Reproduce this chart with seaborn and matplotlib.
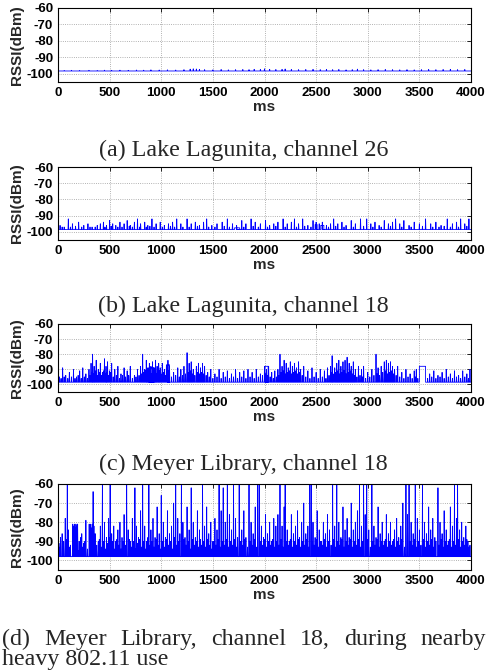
import matplotlib
matplotlib.use('Agg')
import matplotlib.pyplot as plt
import seaborn as sns
import pandas as pd

sns.set_style('white')
plt.rcParams['font.family'] = ['Liberation Sans', 'DejaVu Sans']
plt.rcParams['axes.unicode_minus'] = False

# x ticks / y ticks shared by all four panels
x_ticks = [0, 500, 1000, 1500, 2000, 2500, 3000, 3500, 4000]
y_ticks = [-100, -90, -80, -70, -60]

captions = ['(a) Lake Lagunita, channel 26',
            '(b) Lake Lagunita, channel 18',
            '(c) Meyer Library, channel 18']
caption_d = ['(d)', 'Meyer', 'Library,', 'channel', '18,', 'during', 'nearby']
caption_d2 = 'heavy 802.11 use'

# noise floor of each trace (dBm)
base_levels = [-98.3, -98.5, -98.5, -98.0]

# (a) lake, channel 26: only tiny wiggles on the floor
a_spikes = [(60, -98.0), (130, -97.9), (210, -98.0), (300, -97.9), (380, -98.0), (450, -97.8),
            (520, -97.9), (600, -97.8), (680, -97.9), (760, -97.7), (830, -97.8), (900, -97.6),
            (980, -97.7), (1060, -97.6), (1140, -97.7), (1220, -97.5), (1280, -97.2), (1310, -97.0),
            (1340, -97.1), (1370, -97.3), (1420, -97.5), (1500, -97.6), (1580, -97.4), (1650, -97.6),
            (1720, -97.5), (1790, -97.4), (1850, -97.5), (1900, -97.3), (1960, -97.4), (2000, -97.0),
            (2050, -97.3), (2110, -97.4), (2170, -97.3), (2200, -97.1), (2260, -97.4), (2330, -97.5),
            (2400, -97.4), (2470, -97.3), (2540, -97.5), (2600, -97.4), (2660, -97.5), (2720, -97.4),
            (2790, -97.6), (2850, -97.5), (2900, -97.2), (2960, -97.5), (3030, -97.6), (3100, -97.5),
            (3170, -97.4), (3240, -97.5), (3310, -97.6), (3380, -97.5), (3450, -97.6), (3520, -97.5),
            (3590, -97.4), (3660, -97.5), (3730, -97.4), (3800, -97.3), (3870, -97.5), (3940, -97.4)]
a_blocks = []

# (b) lake, channel 18
b_spikes = [(20, -96), (60, -97), (100, -92), (140, -95), (200, -94), (250, -96), (290, -95),
            (330, -97), (380, -96), (410, -95), (440, -94), (470, -96), (500, -93), (530, -95),
            (560, -96), (600, -94), (640, -95), (670, -93), (700, -96), (740, -94), (770, -92),
            (800, -95), (840, -94), (870, -96), (910, -92), (950, -95), (990, -94), (1030, -96),
            (1070, -95), (1110, -94), (1150, -92), (1190, -95), (1250, -92), (1290, -95), (1330, -94),
            (1370, -96), (1410, -94), (1440, -92), (1490, -96), (1540, -95), (1590, -94), (1640, -92),
            (1690, -95), (1730, -96), (1780, -93), (1820, -95), (1870, -92), (1910, -94), (1960, -95),
            (2010, -93), (2050, -96), (2090, -95), (2130, -94), (2180, -92), (2220, -95), (2260, -94),
            (2290, -92), (2330, -95), (2370, -92), (2420, -96), (2470, -93), (2500, -94), (2530, -95),
            (2560, -94), (2600, -96), (2640, -95), (2670, -92), (2710, -95), (2750, -94), (2790, -96),
            (2840, -93), (2880, -95), (2930, -92), (2990, -92), (3030, -95), (3070, -94), (3110, -96),
            (3160, -93), (3200, -95), (3240, -94), (3270, -92), (3310, -95), (3350, -93), (3400, -96),
            (3450, -94), (3500, -95), (3560, -92), (3610, -95), (3660, -94), (3710, -96), (3770, -92),
            (3820, -95), (3860, -94), (3900, -92), (3940, -95), (3980, -92)]
b_chatter = [(40, -97), (120, -97), (170, -96.5), (230, -97), (310, -97), (360, -97), (455, -97),
             (515, -96.5), (580, -97), (620, -97), (690, -96.5), (720, -97), (790, -97), (855, -97),
             (890, -96.5), (930, -97), (1010, -97), (1090, -96.5), (1130, -97), (1210, -97),
             (1270, -97), (1350, -96.5), (1460, -97), (1520, -97), (1610, -96.5), (1660, -97),
             (1800, -97), (1890, -96.5), (1940, -97), (2030, -97), (2110, -96.5), (2200, -97),
             (2310, -97), (2390, -96.5), (2450, -97), (2620, -97), (2690, -96.5), (2770, -97),
             (2860, -97), (2960, -96.5), (3050, -97), (3130, -97), (3220, -96.5), (3330, -97),
             (3420, -97), (3530, -96.5), (3630, -97), (3690, -97), (3740, -96.5), (3800, -97),
             (3880, -97), (3960, -96.5)]
b_blocks = [(1710, 1760, -97.5), (2490, 2510, -95.5), (2545, 2575, -96.0)]

# (c) library, channel 18
c_spikes = [(15, -95), (45, -89), (75, -94), (110, -92), (150, -90), (180, -95), (210, -91),
            (240, -89), (270, -93), (300, -90), (320, -86), (335, -80), (350, -88), (370, -84),
            (390, -90), (410, -86), (430, -92), (450, -83), (465, -88), (480, -85), (500, -91),
            (520, -86), (550, -90), (580, -88), (610, -93), (640, -89), (670, -91), (700, -88),
            (740, -94), (770, -90), (800, -88), (820, -80), (840, -90), (855, -84), (870, -89),
            (885, -86), (900, -88), (915, -85), (930, -89), (945, -84), (960, -88), (975, -86),
            (990, -89), (1010, -86), (1030, -90), (1050, -87), (1065, -84), (1080, -88), (1120, -92),
            (1160, -89), (1190, -90), (1220, -88), (1250, -79), (1270, -86), (1290, -85), (1310, -90),
            (1340, -88), (1360, -86), (1380, -89), (1400, -86), (1420, -88), (1450, -92), (1480, -90),
            (1520, -93), (1560, -90), (1600, -92), (1640, -91), (1680, -93), (1720, -90), (1760, -92),
            (1800, -91), (1840, -90), (1880, -92), (1920, -90), (1960, -93), (2000, -88), (2020, -90),
            (2040, -88), (2070, -92), (2100, -91), (2130, -90), (2150, -80), (2170, -88), (2190, -84),
            (2210, -86), (2230, -89), (2250, -85), (2270, -88), (2290, -86), (2310, -89), (2330, -85),
            (2350, -90), (2380, -88), (2420, -91), (2460, -89), (2500, -92), (2540, -90), (2580, -91),
            (2610, -89), (2640, -88), (2655, -81), (2680, -89), (2700, -86), (2720, -84), (2740, -88),
            (2760, -85), (2780, -84), (2800, -82), (2820, -86), (2840, -88), (2860, -85), (2880, -90),
            (2910, -88), (2940, -90), (2960, -88), (3000, -92), (3040, -90), (3080, -80), (3100, -89),
            (3130, -88), (3160, -85), (3180, -84), (3200, -86), (3220, -85), (3240, -88), (3260, -90),
            (3290, -88), (3330, -92), (3370, -90), (3410, -93), (3450, -91), (3470, -90), (3600, -93),
            (3640, -91), (3680, -94), (3720, -92), (3760, -90), (3800, -93), (3840, -91), (3880, -94),
            (3920, -91), (3960, -93), (3990, -90)]
c_chatter = [(30, -96), (60, -95), (95, -96), (130, -95), (165, -96), (195, -94), (225, -96),
             (255, -95), (285, -96), (310, -94), (328, -92), (343, -93), (360, -91), (380, -94),
             (400, -92), (420, -94), (440, -91), (458, -93), (472, -92), (490, -94), (510, -92),
             (535, -95), (565, -94), (595, -96), (625, -94), (655, -95), (685, -94), (720, -96),
             (755, -95), (785, -94), (810, -93), (830, -92), (848, -91), (862, -93), (878, -92),
             (893, -91), (908, -93), (922, -92), (938, -91), (952, -93), (968, -92), (982, -91),
             (1000, -93), (1020, -92), (1040, -94), (1058, -92), (1072, -91), (1100, -95),
             (1140, -94), (1175, -95), (1205, -94), (1235, -93), (1260, -92), (1280, -91),
             (1300, -93), (1325, -94), (1350, -92), (1370, -93), (1390, -92), (1410, -93),
             (1435, -94), (1465, -95), (1500, -96), (1540, -95), (1580, -96), (1620, -95),
             (1660, -96), (1700, -95), (1740, -96), (1780, -95), (1820, -96), (1860, -95),
             (1900, -96), (1940, -95), (1980, -94), (2010, -93), (2030, -94), (2055, -95),
             (2085, -96), (2115, -95), (2140, -94), (2160, -92), (2180, -91), (2200, -93),
             (2220, -92), (2240, -91), (2260, -93), (2280, -92), (2300, -91), (2320, -93),
             (2340, -92), (2365, -94), (2400, -95), (2440, -96), (2480, -95), (2520, -96),
             (2560, -95), (2595, -96), (2625, -94), (2648, -92), (2665, -93), (2690, -92),
             (2710, -91), (2730, -93), (2750, -92), (2770, -91), (2790, -93), (2810, -92),
             (2830, -91), (2850, -93), (2870, -94), (2895, -95), (2925, -94), (2950, -95),
             (2980, -96), (3020, -95), (3060, -94), (3090, -93), (3115, -94), (3145, -92),
             (3170, -91), (3190, -93), (3210, -92), (3230, -91), (3250, -93), (3275, -94),
             (3310, -95), (3350, -96), (3390, -95), (3430, -96), (3460, -95), (3485, -96),
             (3580, -96), (3620, -95), (3660, -96), (3700, -95), (3740, -96), (3780, -95),
             (3820, -96), (3860, -95), (3900, -96), (3940, -95), (3975, -96)]
c_blocks = [(880, 930, -89), (1060, 1080, -87), (2005, 2035, -88), (3500, 3560, -88)]

# (d) library, channel 18, heavy 802.11 nearby
d_spikes = [(10, -93), (25, -88), (40, -86), (55, -90), (70, -78), (90, -60), (100, -84), (120, -92),
            (205, -90), (230, -86), (250, -91), (270, -79), (340, -64), (360, -86), (390, -90),
            (410, -82), (430, -60), (450, -80), (470, -88), (490, -78), (505, -60), (520, -86),
            (540, -82), (560, -90), (580, -84), (600, -80), (620, -88), (640, -76), (665, -60),
            (680, -84), (700, -90), (720, -78), (745, -62), (760, -82), (780, -88), (800, -74),
            (820, -60), (840, -82), (860, -90), (880, -60), (900, -84), (920, -78), (940, -88),
            (960, -72), (980, -86), (1000, -66), (1020, -80), (1040, -88), (1060, -74), (1080, -86),
            (1100, -82), (1120, -70), (1140, -60), (1160, -78), (1180, -86), (1195, -60), (1210, -80),
            (1230, -88), (1250, -72), (1270, -84), (1290, -62), (1310, -80), (1330, -88), (1350, -74),
            (1370, -84), (1400, -60), (1420, -82), (1440, -72), (1460, -86), (1480, -80), (1500, -90),
            (1520, -78), (1540, -84), (1560, -60), (1580, -74), (1600, -62), (1620, -80), (1640, -60),
            (1660, -76), (1680, -84), (1700, -60), (1720, -78), (1740, -88), (1755, -60), (1780, -84),
            (1800, -74), (1820, -88), (1850, -60), (1870, -80), (1890, -86), (1910, -72), (1935, -60),
            (1950, -60), (1970, -82), (1990, -88), (2010, -76), (2030, -86), (2050, -80), (2070, -90),
            (2090, -78), (2110, -82), (2130, -76), (2150, -60), (2170, -82), (2190, -72), (2200, -60),
            (2220, -84), (2240, -90), (2260, -76), (2280, -86), (2300, -82), (2320, -74), (2340, -88),
            (2360, -80), (2380, -70), (2400, -86), (2420, -82), (2440, -60), (2455, -60), (2470, -80),
            (2490, -88), (2510, -74), (2530, -84), (2550, -90), (2570, -80), (2590, -86), (2610, -76),
            (2630, -84), (2660, -60), (2680, -82), (2700, -60), (2720, -80), (2740, -88), (2760, -72),
            (2780, -84), (2800, -78), (2820, -88), (2840, -70), (2860, -84), (2880, -80), (2900, -74),
            (2920, -60), (2940, -82), (2960, -60), (2975, -76), (2990, -60), (3010, -84), (3040, -60),
            (3060, -82), (3080, -88), (3100, -72), (3120, -86), (3140, -80), (3160, -90), (3180, -76),
            (3200, -86), (3220, -80), (3240, -90), (3260, -84), (3280, -78), (3300, -88), (3320, -82),
            (3340, -70), (3370, -60), (3385, -76), (3400, -60), (3420, -80), (3440, -86), (3460, -60),
            (3480, -78), (3500, -84), (3530, -60), (3550, -80), (3570, -86), (3590, -72), (3610, -84),
            (3630, -78), (3650, -88), (3680, -62), (3700, -80), (3720, -86), (3740, -74), (3760, -84),
            (3780, -90), (3800, -72), (3820, -82), (3840, -60), (3860, -78), (3870, -60), (3890, -84),
            (3910, -80), (3930, -88), (3950, -82), (3970, -90), (3990, -92)]
d_chatter = [(20, -91), (50, -94), (80, -89), (110, -93), (200, -95), (220, -88), (240, -93),
             (260, -90), (285, -94), (375, -92), (400, -89), (420, -93), (440, -90), (460, -94),
             (480, -91), (495, -88), (515, -93), (530, -90), (550, -94), (570, -89), (590, -92),
             (610, -94), (630, -90), (655, -92), (690, -89), (710, -93), (730, -90), (755, -94),
             (770, -91), (790, -89), (810, -93), (830, -90), (850, -94), (870, -88), (890, -92),
             (910, -90), (930, -93), (950, -89), (970, -92), (990, -94), (1010, -90), (1030, -93),
             (1050, -89), (1070, -92), (1090, -90), (1110, -94), (1130, -88), (1150, -92),
             (1170, -90), (1200, -93), (1220, -89), (1240, -92), (1260, -90), (1280, -94),
             (1300, -89), (1320, -92), (1340, -90), (1360, -93), (1380, -89), (1390, -92),
             (1410, -90), (1430, -93), (1450, -89), (1470, -92), (1490, -94), (1510, -90),
             (1530, -92), (1550, -89), (1570, -93), (1590, -90), (1610, -92), (1630, -89),
             (1650, -93), (1670, -90), (1690, -92), (1710, -89), (1730, -93), (1765, -90),
             (1790, -92), (1810, -89), (1835, -93), (1860, -90), (1880, -92), (1900, -89),
             (1920, -93), (1960, -90), (1980, -92), (2000, -89), (2020, -93), (2040, -90),
             (2060, -92), (2080, -89), (2100, -93), (2120, -90), (2140, -92), (2160, -89),
             (2180, -93), (2210, -90), (2230, -92), (2250, -89), (2270, -93), (2290, -90),
             (2310, -92), (2330, -89), (2350, -93), (2370, -90), (2390, -92), (2410, -89),
             (2430, -93), (2465, -90), (2480, -92), (2500, -89), (2520, -93), (2540, -90),
             (2560, -92), (2580, -89), (2600, -93), (2620, -90), (2645, -92), (2670, -89),
             (2690, -93), (2710, -90), (2730, -92), (2750, -89), (2770, -93), (2790, -90),
             (2810, -92), (2830, -89), (2850, -93), (2870, -90), (2890, -92), (2910, -89),
             (2930, -93), (2950, -90), (2985, -92), (3000, -89), (3025, -93), (3050, -90),
             (3070, -92), (3090, -89), (3110, -93), (3130, -90), (3150, -92), (3170, -89),
             (3190, -93), (3210, -90), (3230, -92), (3250, -89), (3270, -93), (3290, -90),
             (3310, -92), (3330, -89), (3355, -93), (3410, -90), (3430, -92), (3450, -89),
             (3470, -93), (3490, -90), (3515, -92), (3540, -89), (3560, -93), (3580, -90),
             (3600, -92), (3620, -89), (3640, -93), (3660, -90), (3690, -92), (3710, -89),
             (3730, -93), (3750, -90), (3770, -92), (3790, -89), (3810, -93), (3830, -90),
             (3850, -92), (3880, -89), (3900, -93), (3920, -90), (3940, -92), (3960, -89),
             (3980, -93)]
# bursts held near -81 dBm early in trace (d)
d_bursts = [(142, -81), (150, -82), (158, -81), (166, -83), (174, -81), (182, -82), (190, -81),
            (302, -81), (310, -82), (318, -81), (326, -83), (334, -81), (348, -82)]
d_blocks = []


def build_trace(base, spikes, blocks):
    # every spike goes up from the floor and straight back down; blocks hold a level for a while
    events = []
    for t, p in spikes:
        events.append((t, [(t - 3, base), (t, p), (t + 3, base)]))
    for t0, t1, lv in blocks:
        events.append((t0, [(t0, base), (t0, lv), (t1, lv), (t1, base)]))
    events.sort(key=lambda e: e[0])
    xs, ys = [0], [base]
    for _, seg in events:
        for x, y in seg:
            xs.append(x)
            ys.append(y)
    xs.append(4000)
    ys.append(base)
    return pd.DataFrame({'ms': xs, 'rssi': ys})


panels = [(a_spikes, a_blocks),
          (b_spikes + b_chatter, b_blocks),
          (c_spikes + c_chatter, c_blocks),
          (d_spikes + d_chatter + d_bursts, d_blocks)]
# axes top / bottom in pixels from the top of the picture
ax_px = [(8, 82), (167, 240), (324, 392), (484, 570)]

W, H = 487, 670
fig = plt.figure(figsize=(W / 100, H / 100), dpi=100)

for i, ((spk, blk), (top, bot)) in enumerate(zip(panels, ax_px)):
    ax = fig.add_axes([58 / W, 1 - bot / H, (471 - 58) / W, (bot - top) / H])
    df = build_trace(base_levels[i], spk, blk)
    sns.lineplot(data=df, x='ms', y='rssi', sort=False, estimator=None,
                 color='#0000ff', linewidth=0.6, ax=ax)
    ax.set_xlim(0, 4000)
    ax.set_ylim(-105, -60)
    ax.set_xticks(x_ticks)
    ax.set_yticks(y_ticks)
    ax.grid(True, linestyle=':', color='#999999', linewidth=0.6)
    ax.tick_params(direction='in', top=True, right=True, length=3, width=0.6,
                   labelsize=9.5, pad=3.5, colors='black')
    for lab in ax.get_xticklabels() + ax.get_yticklabels():
        lab.set_fontweight('bold')
    for s in ax.spines.values():
        s.set_color('black')
        s.set_linewidth(0.8)
    ax.set_xlabel('ms', fontsize=11, fontweight='bold', labelpad=1)
    ax.set_ylabel('RSSI(dBm)', fontsize=11, fontweight='bold', labelpad=2)

cap_font = dict(family=['Liberation Serif', 'DejaVu Serif'], fontsize=17.3, fontweight='normal')
cap_base = [156, 312, 470]
for txt, yb in zip(captions, cap_base):
    fig.text(0.5, 1 - yb / H, txt, ha='center', va='baseline', **cap_font)

# caption (d): first line justified across the width, second line left aligned
words = [fig.text(0, 1 - 645 / H, w, ha='left', va='baseline', **cap_font) for w in caption_d]
fig.text(2 / W, 1 - 665 / H, caption_d2, ha='left', va='baseline', **cap_font)
fig.canvas.draw()
renderer = fig.canvas.get_renderer()
widths = [t.get_window_extent(renderer).width for t in words]
gap = (486 - 2 - sum(widths)) / (len(words) - 1)
x = 2
for t, w in zip(words, widths):
    t.set_x(x / W)
    x += w + gap

fig.savefig('out.png', dpi=100)
